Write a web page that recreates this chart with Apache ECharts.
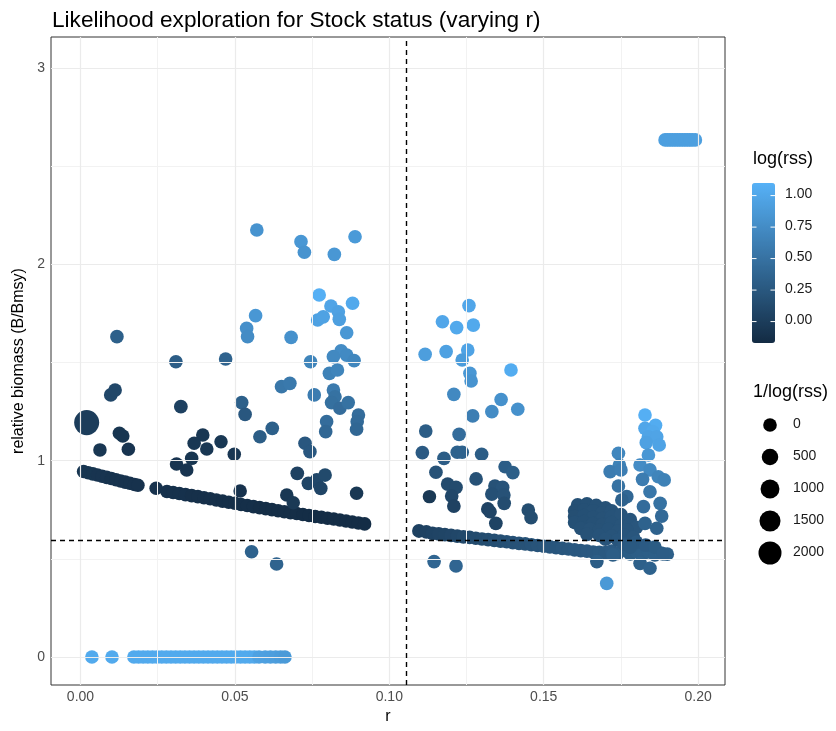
<!DOCTYPE html>
<html><head><meta charset="utf-8">
<script src="https://cdn.jsdelivr.net/npm/echarts@6/dist/echarts.min.js"></script>
<style>html,body{margin:0;padding:0;background:#fff}#c{width:836px;height:731px}</style>
</head><body><div id="c"></div>
<script>
// ---- data: [r, relative biomass, log(rss)] ----
const bottomRow = [[0.0037,0,1.03],[0.0102,0,1.03],[0.0173,0,1.03],[0.0188,0,1.03],[0.0203,0,1.03],[0.0218,0,1.03],[0.0233,0,1.03],[0.0248,0,1.03],[0.0263,0,1.03],[0.0278,0,1.03],[0.0293,0,1.03],[0.0308,0,1.03],[0.0323,0,1.03],[0.0338,0,1.03],[0.0353,0,1.03],[0.0368,0,1.03],[0.0383,0,1.03],[0.0398,0,1.03],[0.0413,0,1.03],[0.0428,0,1.03],[0.0443,0,1.03],[0.0458,0,1.03],[0.0473,0,1.03],[0.0488,0,1.03],[0.0503,0,1.03],[0.0518,0,1.03],[0.0533,0,1.03],[0.0548,0,1.03],[0.0563,0,1.02],[0.0578,0,0.95],[0.0598,0,0.94],[0.0615,0,0.93],[0.0632,0,0.92],[0.0648,0,0.9],[0.0662,0,0.88]];
const topBar = [[0.1893,2.634,0.93],[0.1901,2.634,0.93],[0.1909,2.634,0.93],[0.1917,2.634,0.93],[0.1925,2.634,0.93],[0.1933,2.634,0.93],[0.1941,2.634,0.93],[0.1949,2.634,0.93],[0.1957,2.634,0.93],[0.1965,2.634,0.93],[0.1973,2.634,0.93],[0.1981,2.634,0.93],[0.1991,2.634,0.93]];
const leftCurve = [[0.001,0.945,-0.07],[0.0025,0.939,-0.07],[0.004,0.933,-0.07],[0.0055,0.927,-0.08],[0.007,0.921,-0.08],[0.0085,0.915,-0.08],[0.010,0.909,-0.09],[0.0115,0.903,-0.09],[0.013,0.897,-0.09],[0.0145,0.891,-0.1],[0.016,0.885,-0.1],[0.0175,0.879,-0.1],[0.0186,0.875,-0.1],[0.0245,0.860,-0.1],
[0.028,0.843,-0.11],[0.030,0.838,-0.11],[0.032,0.833,-0.11],[0.034,0.827,-0.11],[0.036,0.822,-0.12],[0.038,0.817,-0.12],[0.040,0.811,-0.12],[0.042,0.806,-0.12],[0.044,0.800,-0.12],[0.046,0.794,-0.13],[0.048,0.788,-0.13],[0.050,0.783,-0.13],[0.052,0.777,-0.13],[0.054,0.772,-0.13],[0.056,0.766,-0.13],[0.058,0.761,-0.14],[0.060,0.756,-0.14],[0.062,0.751,-0.14],[0.064,0.745,-0.14],[0.066,0.740,-0.14],[0.068,0.735,-0.14],[0.070,0.731,-0.14],[0.072,0.726,-0.15],[0.074,0.721,-0.15],[0.076,0.716,-0.15],[0.078,0.712,-0.15],[0.080,0.707,-0.15],[0.082,0.703,-0.15],[0.084,0.698,-0.15],[0.086,0.693,-0.15],[0.088,0.688,-0.15],[0.090,0.683,-0.15],[0.092,0.678,-0.15]];
const rightCurve = [[0.1096,0.642,0.04],[0.112,0.637,0.05],[0.114,0.630,0.06],[0.116,0.627,0.07],[0.118,0.623,0.08],[0.120,0.620,0.09],[0.122,0.616,0.1],[0.124,0.612,0.11],[0.126,0.609,0.12],[0.128,0.605,0.13],[0.130,0.601,0.14],[0.132,0.598,0.15],[0.134,0.594,0.16],[0.136,0.590,0.17],[0.138,0.587,0.18],[0.140,0.583,0.19],[0.142,0.579,0.2],[0.144,0.576,0.2],[0.146,0.572,0.21],[0.148,0.568,0.22],[0.150,0.564,0.22],[0.152,0.561,0.23],[0.154,0.557,0.23],[0.156,0.553,0.24],[0.158,0.550,0.24],[0.160,0.546,0.25],[0.162,0.542,0.25],[0.164,0.539,0.26],[0.166,0.535,0.26],[0.168,0.533,0.27],[0.170,0.532,0.27],[0.172,0.540,0.28],[0.174,0.528,0.28],[0.176,0.545,0.29],[0.178,0.525,0.29],[0.180,0.538,0.3],[0.182,0.522,0.3],[0.184,0.535,0.31],[0.186,0.520,0.31],[0.188,0.530,0.32],[0.190,0.524,0.32]];
const rightBlob = [[0.161,0.775,0.18],[0.164,0.780,0.18],[0.167,0.772,0.19],[0.170,0.760,0.2],[0.160,0.745,0.17],[0.163,0.750,0.18],[0.166,0.745,0.19],[0.169,0.735,0.2],[0.172,0.745,0.21],[0.160,0.715,0.17],[0.163,0.720,0.18],[0.166,0.712,0.19],[0.169,0.705,0.2],[0.172,0.715,0.21],[0.175,0.725,0.22],[0.178,0.700,0.23],[0.160,0.685,0.18],[0.163,0.690,0.18],[0.166,0.680,0.19],[0.169,0.675,0.2],[0.172,0.685,0.21],[0.175,0.670,0.22],[0.178,0.680,0.23],[0.180,0.660,0.24],[0.162,0.655,0.19],[0.165,0.650,0.2],[0.168,0.645,0.2],[0.171,0.650,0.21],[0.174,0.640,0.22],[0.177,0.645,0.23],[0.164,0.625,0.2],[0.168,0.620,0.21],[0.172,0.615,0.22],[0.176,0.620,0.23],[0.179,0.610,0.24],[0.170,0.600,0.22],[0.174,0.595,0.23],[0.176,0.575,0.26],[0.180,0.585,0.27],[0.183,0.570,0.28],[0.186,0.560,0.29],[0.178,0.560,0.27],
[0.1672,0.486,0.3],[0.1724,0.520,0.3],[0.1812,0.477,0.33],[0.1844,0.452,0.35],[0.1886,0.525,0.3],[0.1704,0.375,0.87]];
const rightRise = [[0.1828,1.233,1.08],[0.1862,1.180,1.05],[0.1828,1.165,1.0],[0.1853,1.148,1.02],[0.1839,1.122,0.98],[0.1866,1.122,0.98],[0.1832,1.092,0.95],[0.1874,1.080,0.97],[0.1839,1.029,0.85],[0.1742,1.038,0.7],[0.1745,0.978,0.65],[0.1715,0.944,0.6],[0.175,0.953,0.62],[0.1812,0.978,0.75],[0.1844,0.953,0.72],[0.182,0.905,0.6],[0.1871,0.918,0.68],[0.189,0.902,0.65],[0.1844,0.842,0.55],[0.1742,0.871,0.5],[0.1769,0.817,0.4],[0.1753,0.800,0.35],[0.1823,0.766,0.45],[0.1877,0.783,0.5],[0.1882,0.718,0.42],[0.1828,0.681,0.35],[0.1866,0.656,0.35]];
const rightScatter = [[0.1258,1.79,1.0],[0.1172,1.708,1.0],[0.1218,1.678,1.02],[0.1272,1.691,1.02],[0.1116,1.542,0.92],[0.1184,1.556,0.95],[0.1254,1.564,0.97],[0.1236,1.513,0.9],[0.1394,1.462,1.05],[0.1261,1.445,0.85],[0.1265,1.406,0.82],[0.1209,1.338,0.72],[0.1362,1.312,0.8],[0.1416,1.262,0.8],[0.1332,1.25,0.75],[0.127,1.228,0.62],[0.1118,1.151,0.3],[0.1226,1.134,0.45],[0.1107,1.041,0.28],[0.1177,1.012,0.3],[0.122,1.043,0.35],[0.1236,1.043,0.35],[0.1299,1.033,0.3],[0.1151,0.941,0.2],[0.1375,0.969,0.3],[0.14,0.939,0.32],[0.1281,0.907,0.2],[0.1189,0.881,0.13],[0.1216,0.864,0.13],[0.1202,0.82,0.1],[0.113,0.817,-0.04],[0.1209,0.769,0.05],[0.1342,0.871,0.2],[0.1367,0.864,0.22],[0.1332,0.83,0.18],[0.1371,0.825,0.2],[0.1372,0.783,0.15],[0.1319,0.754,0.06],[0.1326,0.74,0.07],[0.1345,0.681,0.06],[0.145,0.749,0.15],[0.1459,0.71,0.15],[0.1145,0.486,0.38],[0.1216,0.464,0.38]];
const leftScatter = [[0.0098,1.335,0.1],[0.0112,1.36,0.1],[0.0118,1.632,0.33],[0.0063,1.055,-0.06],[0.0126,1.14,-0.07],[0.0137,1.126,-0.07],[0.0155,1.058,-0.08],[0.0309,1.504,0.3],[0.0325,1.275,0.04],[0.0396,1.131,-0.06],[0.0368,1.089,-0.06],[0.0409,1.06,-0.06],[0.0455,1.097,-0.05],[0.0498,1.033,-0.06],[0.036,1.012,-0.07],[0.0311,0.983,-0.08],[0.0344,0.953,-0.08],[0.047,1.518,0.36],[0.0517,0.846,-0.1],[0.0522,1.296,0.33],[0.0533,1.236,0.25],[0.0581,1.122,0.3],[0.0621,1.165,0.33],[0.0651,1.377,0.55],[0.0678,1.394,0.57],[0.0702,0.936,0.05],[0.0709,0.854,0.0],[0.0668,0.825,-0.05],[0.0689,0.786,-0.04],[0.0738,0.885,0.08],[0.0765,0.902,0.1],[0.0792,0.927,0.12],[0.0778,0.859,0.08],[0.0727,1.089,0.25],[0.0743,1.046,0.25],[0.0757,1.335,0.6],[0.0797,1.199,0.45],[0.0794,1.148,0.4],[0.0819,1.36,0.58],[0.0824,1.326,0.5],[0.0813,1.296,0.48],[0.084,1.267,0.45],[0.0867,1.296,0.5],[0.0894,0.834,-0.05],[0.09,1.233,0.45],[0.0896,1.199,0.43],[0.0894,1.16,0.4],[0.0554,0.536,0.35],[0.0635,0.474,0.36],[0.0571,2.175,0.82],[0.0714,2.116,0.85],[0.0725,2.062,0.82],[0.0822,2.051,0.85],[0.0889,2.141,0.88],[0.0773,1.844,1.08],[0.0811,1.788,0.98],[0.0835,1.759,0.95],[0.0838,1.72,0.93],[0.0881,1.802,1.02],[0.0768,1.717,0.95],[0.0786,1.733,0.96],[0.0862,1.652,0.85],[0.0567,1.739,0.85],[0.0538,1.674,0.78],[0.0541,1.632,0.75],[0.0682,1.628,0.8],[0.0745,1.504,0.68],[0.0844,1.56,0.75],[0.0819,1.53,0.72],[0.0862,1.538,0.73],[0.0886,1.51,0.7],[0.0806,1.445,0.65],[0.0832,1.462,0.68],
[0.002,1.194,0.00039]];
const xTicks = [0, 0.05, 0.10, 0.15, 0.20];
const xMinor = [0.025, 0.075, 0.125, 0.175];
const yTicks = [0, 1, 2, 3];
const yMinor = [0.5, 1.5, 2.5];
const refR = 0.1054, refB = 0.596;
const colorTicks = [0, 0.25, 0.5, 0.75, 1.0];
const sizeBreaks = [0, 500, 1000, 1500, 2000];
const logMin = -0.17, logMax = 1.1;

const allPts = [].concat(bottomRow, topBar, leftCurve, rightCurve, rightBlob, rightRise, rightScatter, leftScatter);
function diam(v){ return Math.sqrt(Math.max(90, 186 + 0.1715 * v)); }

const FONT = 'Liberation Sans, Arial, sans-serif';
const chart = echarts.init(document.getElementById('c'));
const G = {left: 51, top: 37, right: 111, bottom: 46};

const graphics = [];
graphics.push({type:'text', left: 753, top: 150, style:{text:'log(rss)', font:'18px '+FONT, fill:'#000'}});
const barTop = 183, barH = 160, barLeft = 752, barW = 23;
colorTicks.forEach(t => {
  const y = barTop + barH - (t - logMin) / (logMax - logMin) * barH;
  graphics.push({type:'text', left: 785, top: y - 8, style:{text: t.toFixed(2), font:'14px '+FONT, fill:'#1a1a1a'}});
  graphics.push({type:'line', shape:{x1:barLeft, y1:y, x2:barLeft+4.5, y2:y}, style:{stroke:'#fff', lineWidth:1}, z:100});
  graphics.push({type:'line', shape:{x1:barLeft+barW-4.5, y1:y, x2:barLeft+barW, y2:y}, style:{stroke:'#fff', lineWidth:1}, z:100});
});
graphics.push({type:'text', left: 753, top: 383, style:{text:'1/log(rss)', font:'18px '+FONT, fill:'#000'}});
sizeBreaks.forEach((b, i) => {
  const cy = 425 + i * 32;
  graphics.push({type:'circle', shape:{cx:770, cy:cy, r: diam(b)/2}, style:{fill:'#000'}});
  graphics.push({type:'text', left: 793, top: cy - 8, style:{text: String(b), font:'14px '+FONT, fill:'#1a1a1a'}});
});

const option = {
  animation: false,
  backgroundColor: '#fff',
  title: {text: 'Likelihood exploration for Stock status (varying r)', left: 52, top: 9, padding: 0,
    textStyle: {fontFamily: FONT, fontSize: 22.6, fontWeight: 'normal', color: '#000'}},
  grid: {left: G.left, top: G.top, right: G.right, bottom: G.bottom, show: true, borderColor: '#333', borderWidth: 1, backgroundColor: 'transparent'},
  xAxis: {type: 'value', min: -0.00955, max: 0.2087,
    name: 'r', nameLocation: 'middle', nameGap: 22,
    nameTextStyle: {fontFamily: FONT, fontSize: 16, color: '#000'},
    axisLine: {show: false}, splitLine: {show: false},
    axisTick: {show: true, length: 4, lineStyle: {color: '#333'}, customValues: xTicks},
    axisLabel: {customValues: xTicks, formatter: v => v.toFixed(2), color: '#4D4D4D', fontFamily: FONT, fontSize: 14, margin: 5}},
  yAxis: {type: 'value', min: -0.1426, max: 3.1584,
    name: 'relative biomass (B/Bmsy)', nameLocation: 'middle', nameGap: 17,
    nameTextStyle: {fontFamily: FONT, fontSize: 16, color: '#000'},
    axisLine: {show: false}, splitLine: {show: false},
    axisTick: {show: true, length: 4, lineStyle: {color: '#333'}, customValues: yTicks},
    axisLabel: {customValues: yTicks, formatter: v => String(v), color: '#4D4D4D', fontFamily: FONT, fontSize: 14, margin: 6}},
  visualMap: {type: 'continuous', min: logMin, max: logMax, dimension: 2, seriesIndex: 1,
    inRange: {color: ['#132B43', '#56B1F7']}, left: barLeft, top: barTop, itemWidth: barW, itemHeight: barH,
    padding: 0, calculable: false, hoverLink: false, text: null, orient: 'vertical', showLabel: false},
  series: [
    {type: 'scatter', data: [], z: 1, silent: true,
      markLine: {silent: true, precision: 6, symbol: ['none','none'], label: {show: false}, animation: false,
        data: [].concat(
          xMinor.map(v => ({xAxis: v, lineStyle: {color: '#F2F2F2', width: 1, type: 'solid'}})),
          yMinor.map(v => ({yAxis: v, lineStyle: {color: '#F2F2F2', width: 1, type: 'solid'}})),
          xTicks.map(v => ({xAxis: v, lineStyle: {color: '#EBEBEB', width: 1.2, type: 'solid'}})),
          yTicks.map(v => ({yAxis: v, lineStyle: {color: '#EBEBEB', width: 1.2, type: 'solid'}})))}},
    {type: 'scatter', z: 2, silent: true, data: allPts,
      symbolSize: v => diam(1 / v[2]),
      itemStyle: {opacity: 1}, emphasis: {disabled: true}},
    {type: 'scatter', data: [], z: 3, silent: true,
      markLine: {silent: true, precision: 6, symbol: ['none','none'], label: {show: false}, animation: false,
        lineStyle: {color: '#000', width: 1.4, type: [5, 4]},
        data: [{xAxis: refR}, {yAxis: refB}]}}
  ],
  graphic: graphics
};
chart.setOption(option);
</script></body></html>
